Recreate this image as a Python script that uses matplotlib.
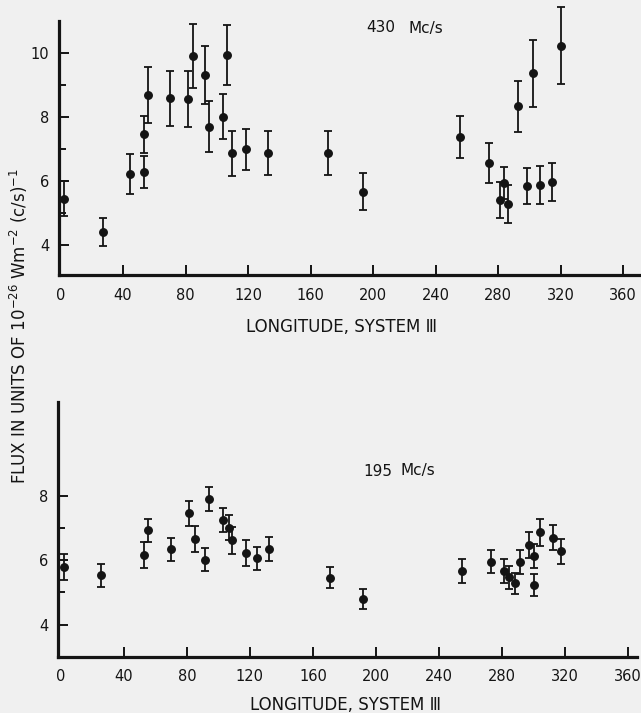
import matplotlib
matplotlib.use("Agg")
import matplotlib.pyplot as plt
from matplotlib.ticker import FixedLocator

# 430 Mc/s data
lon_430 = [2.2, 27.4, 44.5, 53.4, 53.4, 56.2, 70.1, 81.8, 85.0, 92.3, 95.0,
           104.2, 106.8, 109.6, 118.9, 132.8, 171.4, 193.4,
           255.7, 274.4, 281.3, 284.0, 286.6, 292.6, 298.6, 302.2, 306.9, 314.4, 320.3]
flux_430 = [5.44, 4.40, 6.21, 7.46, 6.29, 8.69, 8.58, 8.56, 9.91, 9.31, 7.70,
            8.01, 9.94, 6.87, 6.99, 6.87, 6.87, 5.67,
            7.38, 6.57, 5.41, 5.93, 5.28, 8.34, 5.85, 9.37, 5.87, 5.96, 10.23]
err_430 = [0.55, 0.44, 0.63, 0.58, 0.50, 0.88, 0.87, 0.88, 1.00, 0.90, 0.80,
           0.70, 0.95, 0.70, 0.65, 0.68, 0.68, 0.57,
           0.66, 0.62, 0.56, 0.50, 0.60, 0.80, 0.57, 1.05, 0.60, 0.60, 1.20]

# 195 Mc/s data
lon_195 = [2.1, 25.8, 52.7, 55.3, 69.9, 81.5, 85.1, 91.7, 93.8,
           103.1, 106.7, 108.8, 117.5, 124.5, 132.3, 170.9, 191.9,
           254.6, 273.0, 281.6, 284.6, 288.4, 291.2, 296.9, 300.1, 300.3, 304.3, 312.4, 317.7]
flux_195 = [5.80, 5.54, 6.17, 6.94, 6.34, 7.46, 6.66, 6.02, 7.91,
            7.26, 7.02, 6.63, 6.22, 6.06, 6.35, 5.46, 4.79,
            5.67, 5.96, 5.67, 5.47, 5.28, 5.96, 6.48, 6.13, 5.23, 6.88, 6.70, 6.29]
err_195 = [0.40, 0.36, 0.40, 0.36, 0.37, 0.40, 0.40, 0.35, 0.38,
           0.37, 0.40, 0.42, 0.40, 0.37, 0.38, 0.33, 0.32,
           0.38, 0.36, 0.36, 0.36, 0.33, 0.37, 0.40, 0.37, 0.35, 0.42, 0.39, 0.39]

x_ticks = [0, 40, 80, 120, 160, 200, 240, 280, 320, 360]
y_ticks_top = [4, 6, 8, 10]
y_minor_top = [5, 7, 9]
y_ticks_bottom = [4, 6, 8]
y_minor_bottom = [5, 7]

BG = "#f0f0f0"
INK = "#141414"
W, H = 641, 713

fig = plt.figure(figsize=(6.41, 7.13), dpi=100, facecolor=BG)


def px_axes(left, right, top, bottom):
    return fig.add_axes([left / W, 1 - bottom / H, (right - left) / W, (bottom - top) / H])


def style(ax, xlim, ylim, yticks, yminor, ytop_bound):
    ax.set_facecolor(BG)
    ax.set_xlim(*xlim)
    ax.set_ylim(*ylim)
    for s in ("top", "right"):
        ax.spines[s].set_visible(False)
    for s in ("left", "bottom"):
        ax.spines[s].set_linewidth(2.3)
        ax.spines[s].set_color(INK)
    ax.spines["left"].set_bounds(ylim[0], ytop_bound)
    ax.xaxis.set_major_locator(FixedLocator(x_ticks))
    ax.yaxis.set_major_locator(FixedLocator(yticks))
    ax.yaxis.set_minor_locator(FixedLocator(yminor))
    ax.tick_params(axis="both", which="major", direction="in", length=7, width=1.4,
                   color=INK, labelsize=10.5, labelcolor=INK)
    ax.tick_params(axis="x", which="major", pad=9)
    ax.tick_params(axis="y", which="major", pad=7)
    ax.tick_params(axis="y", which="minor", direction="in", length=5, width=1.4, color=INK)
    ax.xaxis.get_major_ticks()[0].tick1line.set_visible(False)


ebkw = dict(fmt="o", color=INK, ecolor=INK, markersize=5.4, elinewidth=1.3,
            capsize=3, capthick=1.3, clip_on=False)

# Top panel
ax1 = px_axes(59, 641, 0, 275)
style(ax1, (-1, 371.5), (3.06, 11.66), y_ticks_top, y_minor_top, 11.0)
ax1.errorbar(lon_430, flux_430, yerr=err_430, **ebkw)
fig.text(366 / W, 1 - 32.5 / H, "430", ha="left", va="baseline", fontsize=11, color=INK)
fig.text(409 / W, 1 - 32.5 / H, "Mc/s", ha="left", va="baseline", fontsize=11, color=INK)

# Bottom panel
ax2 = px_axes(58, 637, 401.7, 656.7)
style(ax2, (-1.8, 365.7), (3.0, 10.94), y_ticks_bottom, y_minor_bottom, 10.94)
ax2.errorbar(lon_195, flux_195, yerr=err_195, **ebkw)
fig.text(363 / W, 1 - 475.5 / H, "195", ha="left", va="baseline", fontsize=11, color=INK)
fig.text(401 / W, 1 - 475.5 / H, "Mc/s", ha="left", va="baseline", fontsize=11, color=INK)

# Axis labels
fig.text(342 / W, 1 - 327 / H, "LONGITUDE, SYSTEM \u2162", ha="center", va="center",
         fontsize=12, color=INK)
fig.text(345 / W, 1 - 705 / H, "LONGITUDE, SYSTEM \u2162", ha="center", va="center",
         fontsize=12, color=INK)
fig.text(19 / W, 1 - 326 / H,
         r"FLUX IN UNITS OF 10$^{-26}$ Wm$^{-2}$ (c/s)$^{-1}$",
         rotation=90, ha="center", va="center", fontsize=12, color=INK)

fig.savefig("out.png", dpi=100, facecolor=BG)
